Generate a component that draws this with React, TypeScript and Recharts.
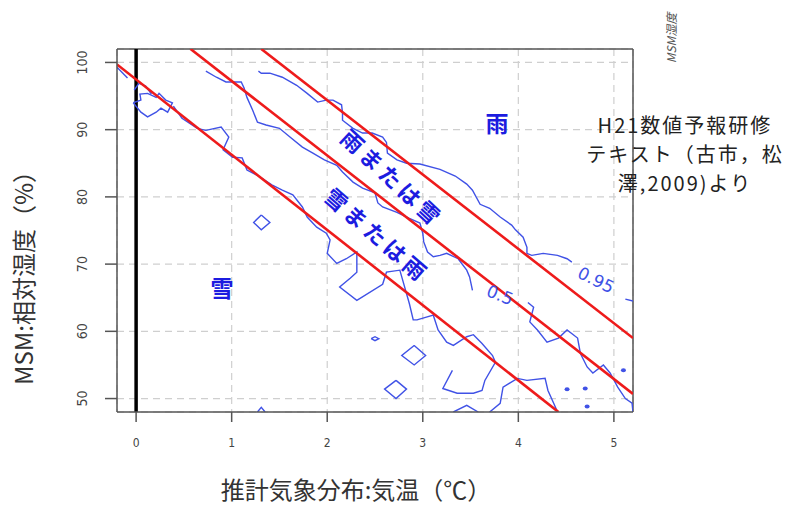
import React from "react";
import {
  ComposedChart,
  Line,
  Scatter,
  XAxis,
  YAxis,
  CartesianGrid,
  ReferenceLine,
} from "recharts";

// ---- axes ----
const xTicks = [0, 1, 2, 3, 4, 5];
const yTicks = [50, 60, 70, 80, 90, 100];
const xDomain = [-0.2, 5.2];
const yDomain = [48, 102];

// ---- red boundary lines (temperature, humidity) ----
const redUpper = [
  { x: 1.31, y: 102 },
  { x: 5.2, y: 59.0 },
];
const redMiddle = [
  { x: 0.57, y: 102 },
  { x: 5.2, y: 50.7 },
];
const redLower = [
  { x: -0.2, y: 99.7 },
  { x: 4.42, y: 48 },
];

// ---- 0.95 contour ----
const c095a = [
  { x: 1.28, y: 98.7 }, { x: 1.31, y: 98.4 }, { x: 1.4, y: 98.4 }, { x: 1.53, y: 97.8 },
  { x: 1.68, y: 96.6 }, { x: 1.79, y: 95.4 }, { x: 1.9, y: 94.1 }, { x: 1.99, y: 94.4 },
  { x: 2.06, y: 94.4 }, { x: 2.15, y: 93.7 }, { x: 2.16, y: 92.5 }, { x: 2.16, y: 91.4 },
  { x: 2.27, y: 90.2 }, { x: 2.37, y: 89.5 }, { x: 2.47, y: 89.5 }, { x: 2.58, y: 88.9 },
  { x: 2.62, y: 88.1 }, { x: 2.63, y: 86.5 }, { x: 2.73, y: 85.5 }, { x: 2.83, y: 85.0 },
  { x: 2.97, y: 84.9 }, { x: 3.18, y: 84.1 }, { x: 3.34, y: 83.1 }, { x: 3.46, y: 81.9 },
  { x: 3.52, y: 81.0 }, { x: 3.6, y: 78.9 }, { x: 3.7, y: 78.3 }, { x: 3.81, y: 77.0 },
  { x: 3.93, y: 75.8 }, { x: 3.97, y: 75.1 }, { x: 4.05, y: 74.0 }, { x: 4.09, y: 72.5 },
  { x: 4.09, y: 71.6 }, { x: 4.14, y: 71.3 }, { x: 4.26, y: 71.6 }, { x: 4.41, y: 71.3 },
  { x: 4.51, y: 70.8 }, { x: 4.56, y: 70.3 },
];
const c095b = [
  { x: 5.12, y: 64.8 }, { x: 5.2, y: 64.5 },
];

// ---- 0.5 contour ----
const c05a = [
  { x: 0.73, y: 98.7 }, { x: 0.84, y: 97.8 }, { x: 0.94, y: 97.1 }, { x: 1.01, y: 97.1 },
  { x: 1.1, y: 97.1 }, { x: 1.13, y: 96.2 }, { x: 1.16, y: 94.8 }, { x: 1.22, y: 92.9 },
  { x: 1.27, y: 91.1 }, { x: 1.36, y: 90.7 }, { x: 1.5, y: 90.2 }, { x: 1.61, y: 88.9 },
  { x: 1.74, y: 87.4 }, { x: 1.85, y: 86.5 }, { x: 1.97, y: 85.5 }, { x: 2.1, y: 84.7 },
  { x: 2.16, y: 83.7 }, { x: 2.27, y: 82.2 }, { x: 2.37, y: 81.3 }, { x: 2.5, y: 80.6 },
  { x: 2.53, y: 79.1 }, { x: 2.58, y: 78.5 }, { x: 2.73, y: 77.7 }, { x: 2.86, y: 76.8 },
  { x: 2.97, y: 76.1 }, { x: 3.0, y: 74.6 }, { x: 3.01, y: 73.3 }, { x: 3.05, y: 71.8 },
  { x: 3.11, y: 71.1 }, { x: 3.18, y: 71.3 }, { x: 3.25, y: 71.6 }, { x: 3.37, y: 70.8 },
  { x: 3.46, y: 69.1 }, { x: 3.49, y: 68.1 }, { x: 3.52, y: 66.1 },
];
const c05b = [
  { x: 4.1, y: 64.3 }, { x: 4.16, y: 63.6 }, { x: 4.12, y: 61.4 }, { x: 4.2, y: 60.2 },
  { x: 4.3, y: 58.4 }, { x: 4.42, y: 59.0 }, { x: 4.51, y: 60.2 }, { x: 4.62, y: 59.0 },
  { x: 4.65, y: 56.7 }, { x: 4.72, y: 54.7 }, { x: 4.78, y: 53.8 }, { x: 4.89, y: 55.0 },
  { x: 4.96, y: 53.8 }, { x: 5.04, y: 51.7 }, { x: 5.12, y: 50.0 }, { x: 5.19, y: 49.3 },
  { x: 5.2, y: 48.0 },
];

// ---- 0.05 contour ----
const c005a = [
  { x: -0.2, y: 99.3 }, { x: -0.09, y: 97.7 },
];
const c005loop = [
  { x: -0.03, y: 94.0 }, { x: 0.05, y: 94.4 }, { x: 0.04, y: 95.3 }, { x: 0.12, y: 95.4 },
  { x: 0.21, y: 94.8 }, { x: 0.24, y: 95.4 }, { x: 0.31, y: 94.4 }, { x: 0.38, y: 94.0 },
  { x: 0.33, y: 92.6 }, { x: 0.26, y: 93.2 }, { x: 0.21, y: 92.6 }, { x: 0.12, y: 91.9 },
  { x: 0.05, y: 92.6 }, { x: -0.03, y: 94.0 },
];
const c005b = [
  { x: -0.02, y: 95.9 }, { x: 0.03, y: 96.9 }, { x: 0.1, y: 96.5 }, { x: 0.16, y: 95.3 },
];
const c005main = [
  { x: 0.39, y: 93.5 }, { x: 0.48, y: 91.7 }, { x: 0.64, y: 90.2 }, { x: 0.73, y: 89.9 },
  { x: 0.89, y: 90.4 }, { x: 0.97, y: 88.9 }, { x: 0.91, y: 87.0 }, { x: 1.01, y: 85.9 },
  { x: 1.11, y: 85.8 }, { x: 1.16, y: 84.0 }, { x: 1.27, y: 83.2 }, { x: 1.42, y: 81.8 },
  { x: 1.53, y: 81.0 }, { x: 1.64, y: 80.3 }, { x: 1.74, y: 78.5 }, { x: 1.79, y: 77.0 },
  { x: 1.89, y: 75.5 }, { x: 1.99, y: 74.6 }, { x: 2.03, y: 73.6 }, { x: 2.0, y: 71.6 },
  { x: 2.1, y: 70.1 }, { x: 2.2, y: 70.8 }, { x: 2.31, y: 71.8 }, { x: 2.31, y: 68.8 },
  { x: 2.24, y: 67.9 }, { x: 2.13, y: 66.6 }, { x: 2.31, y: 64.6 }, { x: 2.58, y: 67.0 },
  { x: 2.62, y: 68.8 }, { x: 2.76, y: 69.1 }, { x: 2.86, y: 64.1 }, { x: 2.9, y: 61.7 },
  { x: 2.94, y: 61.7 }, { x: 3.11, y: 62.4 }, { x: 3.16, y: 60.2 }, { x: 3.25, y: 58.4 },
  { x: 3.32, y: 57.9 }, { x: 3.46, y: 59.2 }, { x: 3.53, y: 59.5 }, { x: 3.62, y: 58.2 },
  { x: 3.73, y: 56.4 }, { x: 3.76, y: 55.4 }, { x: 3.65, y: 52.7 }, { x: 3.62, y: 51.2 },
  { x: 3.53, y: 50.8 }, { x: 3.36, y: 50.8 }, { x: 3.21, y: 51.5 }, { x: 3.31, y: 54.2 },
];
const c005c = [
  { x: 3.32, y: 48.0 }, { x: 3.46, y: 49.0 }, { x: 3.58, y: 48.0 },
];
const c005d = [
  { x: 3.7, y: 48.0 }, { x: 3.81, y: 49.3 }, { x: 3.84, y: 51.7 }, { x: 3.99, y: 53.0 },
  { x: 4.09, y: 52.7 }, { x: 4.28, y: 53.0 }, { x: 4.31, y: 51.2 }, { x: 4.37, y: 49.3 },
  { x: 4.41, y: 48.0 },
];

// ---- small isolated contours ----
const diamond1 = [
  { x: 1.31, y: 77.3 }, { x: 1.4, y: 76.2 }, { x: 1.31, y: 75.1 }, { x: 1.23, y: 76.2 }, { x: 1.31, y: 77.3 },
];
const diamond2 = [
  { x: 2.91, y: 57.9 }, { x: 3.03, y: 56.4 }, { x: 2.91, y: 55.0 }, { x: 2.78, y: 56.4 }, { x: 2.91, y: 57.9 },
];
const diamond3 = [
  { x: 2.72, y: 52.7 }, { x: 2.83, y: 51.4 }, { x: 2.72, y: 50.0 }, { x: 2.6, y: 51.4 }, { x: 2.72, y: 52.7 },
];
const diamond4 = [
  { x: 2.46, y: 58.9 }, { x: 2.5, y: 59.2 }, { x: 2.54, y: 58.9 }, { x: 2.5, y: 58.6 }, { x: 2.46, y: 58.9 },
];
const wedge = [
  { x: 1.27, y: 48.0 }, { x: 1.31, y: 48.7 }, { x: 1.35, y: 48.0 },
];
const dots = [
  { x: 4.7, y: 51.5 }, { x: 4.51, y: 51.4 }, { x: 4.72, y: 48.8 }, { x: 5.1, y: 54.2 },
];

const contourSeries = [
  c095a, c095b, c05a, c05b, c005a, c005loop, c005b, c005main, c005c, c005d,
  diamond1, diamond2, diamond3, diamond4, wedge,
];
const redSeries = [redUpper, redMiddle, redLower];

const noteLines = ["H21数値予報研修", "テキスト（古市，松", "澤,2009)より"];

const BLUE_LINE = "#4052e6";
const BLUE_TEXT = "#1c1ce0";
const RED = "#ee1b1b";
const TICK_FONT = "'Liberation Sans Narrow', 'DejaVu Sans Condensed', 'Liberation Sans', sans-serif";
const JP_FONT = "'Noto Sans CJK JP', 'Noto Sans', sans-serif";

const YTick = (props: any) => {
  const { x, y, payload } = props;
  const tx = x - 16;
  return (
    <text
      x={tx}
      y={y}
      transform={`rotate(-90 ${tx} ${y})`}
      textAnchor="middle"
      fontSize={14}
      fill="#444"
      fontFamily={TICK_FONT}
    >
      {payload.value}
    </text>
  );
};

const XTick = (props: any) => {
  const { x, y, payload } = props;
  return (
    <text x={x} y={y} dy="0.71em" textAnchor="middle" fontSize={12} fill="#444" fontFamily={TICK_FONT}>
      {payload.value}
    </text>
  );
};

const DotShape = (props: any) => {
  const { cx, cy } = props;
  return <ellipse cx={cx} cy={cy} rx={2.5} ry={2} fill={BLUE_LINE} />;
};

export default function App() {
  return (
    <div style={{ position: "absolute", left: 0, top: 0, width: 795, height: 507, background: "#fff" }}>
      <ComposedChart
        width={795}
        height={507}
        margin={{ top: 49, right: 162, left: 0, bottom: 0 }}
      >
        <CartesianGrid stroke="#cfcfcf" strokeDasharray="7 5" strokeWidth={1.2} />
        <XAxis
          type="number"
          dataKey="x"
          domain={xDomain}
          ticks={xTicks}
          allowDataOverflow
          height={95}
          tickSize={10}
          tickMargin={16}
          stroke="#555"
          strokeWidth={1.5}
          tick={<XTick />}
          tickLine={{ stroke: "#555", strokeWidth: 1.5 }}
        />
        <YAxis
          type="number"
          dataKey="y"
          domain={yDomain}
          ticks={yTicks}
          allowDataOverflow
          width={117}
          tickSize={12}
          tickMargin={2}
          stroke="#555"
          strokeWidth={1.5}
          tick={<YTick />}
          tickLine={{ stroke: "#555", strokeWidth: 1.5 }}
        />
        <ReferenceLine y={102} stroke="#555" strokeWidth={1.5} />
        <ReferenceLine x={5.2} stroke="#555" strokeWidth={1.5} />
        <ReferenceLine x={0} stroke="#000" strokeWidth={3.5} />
        {contourSeries.map((d, i) => (
          <Line
            key={"c" + i}
            data={d}
            dataKey="y"
            type="linear"
            stroke={BLUE_LINE}
            strokeWidth={1.4}
            dot={false}
            activeDot={false}
            isAnimationActive={false}
          />
        ))}
        <Scatter data={dots} dataKey="y" shape={<DotShape />} isAnimationActive={false} />
        {redSeries.map((d, i) => (
          <Line
            key={"r" + i}
            data={d}
            dataKey="y"
            type="linear"
            stroke={RED}
            strokeWidth={2.6}
            dot={false}
            activeDot={false}
            isAnimationActive={false}
          />
        ))}
      </ComposedChart>
      <svg
        width={795}
        height={507}
        style={{ position: "absolute", left: 0, top: 0, pointerEvents: "none" }}
      >
        <text
          transform="translate(22,272) rotate(-90)"
          textAnchor="middle"
          dominantBaseline="central"
          fontSize={24}
          fill="#333"
          fontFamily={JP_FONT}
        >
          MSM:相対湿度（%）
        </text>
        <text
          x={356}
          y={488}
          textAnchor="middle"
          dominantBaseline="central"
          fontSize={24}
          fill="#333"
          fontFamily={JP_FONT}
        >
          推計気象分布:気温（℃）
        </text>
        <text
          transform="translate(670,38) rotate(-90)"
          textAnchor="middle"
          dominantBaseline="central"
          fontSize={12}
          fontStyle="italic"
          fill="#555"
          fontFamily={JP_FONT}
        >
          MSM湿度
        </text>
        <g fontFamily={JP_FONT} fontSize={20} letterSpacing={2} fill="#222" textAnchor="middle">
          {noteLines.map((t, i) => (
            <text key={i} x={685} y={124 + i * 29} dominantBaseline="central">
              {t}
            </text>
          ))}
        </g>
        <g fontFamily={JP_FONT} fill={BLUE_TEXT} fontWeight="bold" textAnchor="middle">
          <text x={497} y={122} fontSize={23} dominantBaseline="central">雨</text>
          <text x={222} y={287} fontSize={23} dominantBaseline="central">雪</text>
          <text
            transform="translate(393,177) rotate(43)"
            fontSize={22}
            letterSpacing={4}
            dominantBaseline="central"
          >
            雨または雪
          </text>
          <text
            transform="translate(378,234) rotate(41)"
            fontSize={22}
            letterSpacing={4}
            dominantBaseline="central"
          >
            雪または雨
          </text>
        </g>
        <g fontFamily="'DejaVu Sans', sans-serif" fill={BLUE_LINE} textAnchor="middle">
          <text transform="translate(596,280) rotate(26)" fontSize={17} dominantBaseline="central">
            0.95
          </text>
          <text transform="translate(500,295) rotate(22)" fontSize={17} dominantBaseline="central">
            0.5
          </text>
        </g>
      </svg>
    </div>
  );
}
